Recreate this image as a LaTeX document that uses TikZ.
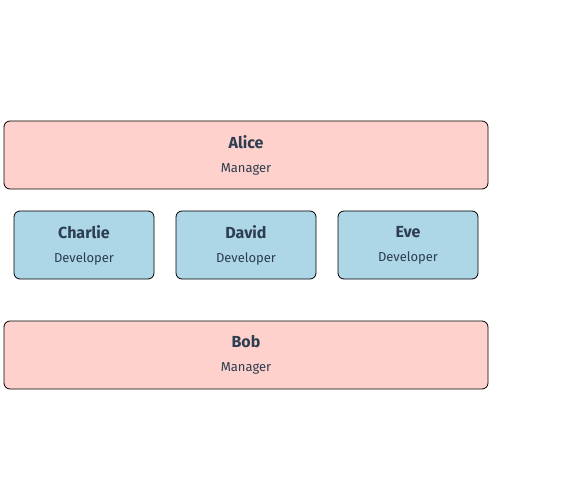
\documentclass[tikz,border=0pt]{standalone}
\usepackage{fontspec}
\setmainfont{Fira Sans}
\definecolor{mgrpink}{HTML}{FFD1CC}
\definecolor{devblue}{HTML}{ADD6E6}
\definecolor{inktext}{HTML}{2C3E50}
\begin{document}
\begin{tikzpicture} [x=1pt, y=-1pt,
            every node/.style={draw=black, line width=0.8pt, rounded corners=6pt, align=center, text=inktext, minimum height=68pt, inner sep=0pt},
            manager/.style={fill=mgrpink, minimum width=484pt},
            developer/.style={fill=devblue, minimum width=140pt}]
            \useasboundingbox (0,0) rectangle (580,494);
            \node[manager] (alice) at (246,155) {{\fontsize{16}{18}\selectfont\bfseries Alice}\\[12pt]{\fontsize{13}{15}\selectfont Manager}};
            \node[developer] (charlie) at (84,245) {{\fontsize{16}{18}\selectfont\bfseries Charlie}\\[12pt]{\fontsize{13}{15}\selectfont Developer}};
            \node[developer] (david) at (246,245) {{\fontsize{16}{18}\selectfont\bfseries David}\\[12pt]{\fontsize{13}{15}\selectfont Developer}};
            \node[developer] (eve) at (408,245) {{\fontsize{16}{18}\selectfont\bfseries Eve}\\[12pt]{\fontsize{13}{15}\selectfont Developer}};
            \node[manager] (bob) at (246,355) {{\fontsize{16}{18}\selectfont\bfseries Bob}\\[12pt]{\fontsize{13}{15}\selectfont Manager}};
        \end{tikzpicture}
\end{document}
